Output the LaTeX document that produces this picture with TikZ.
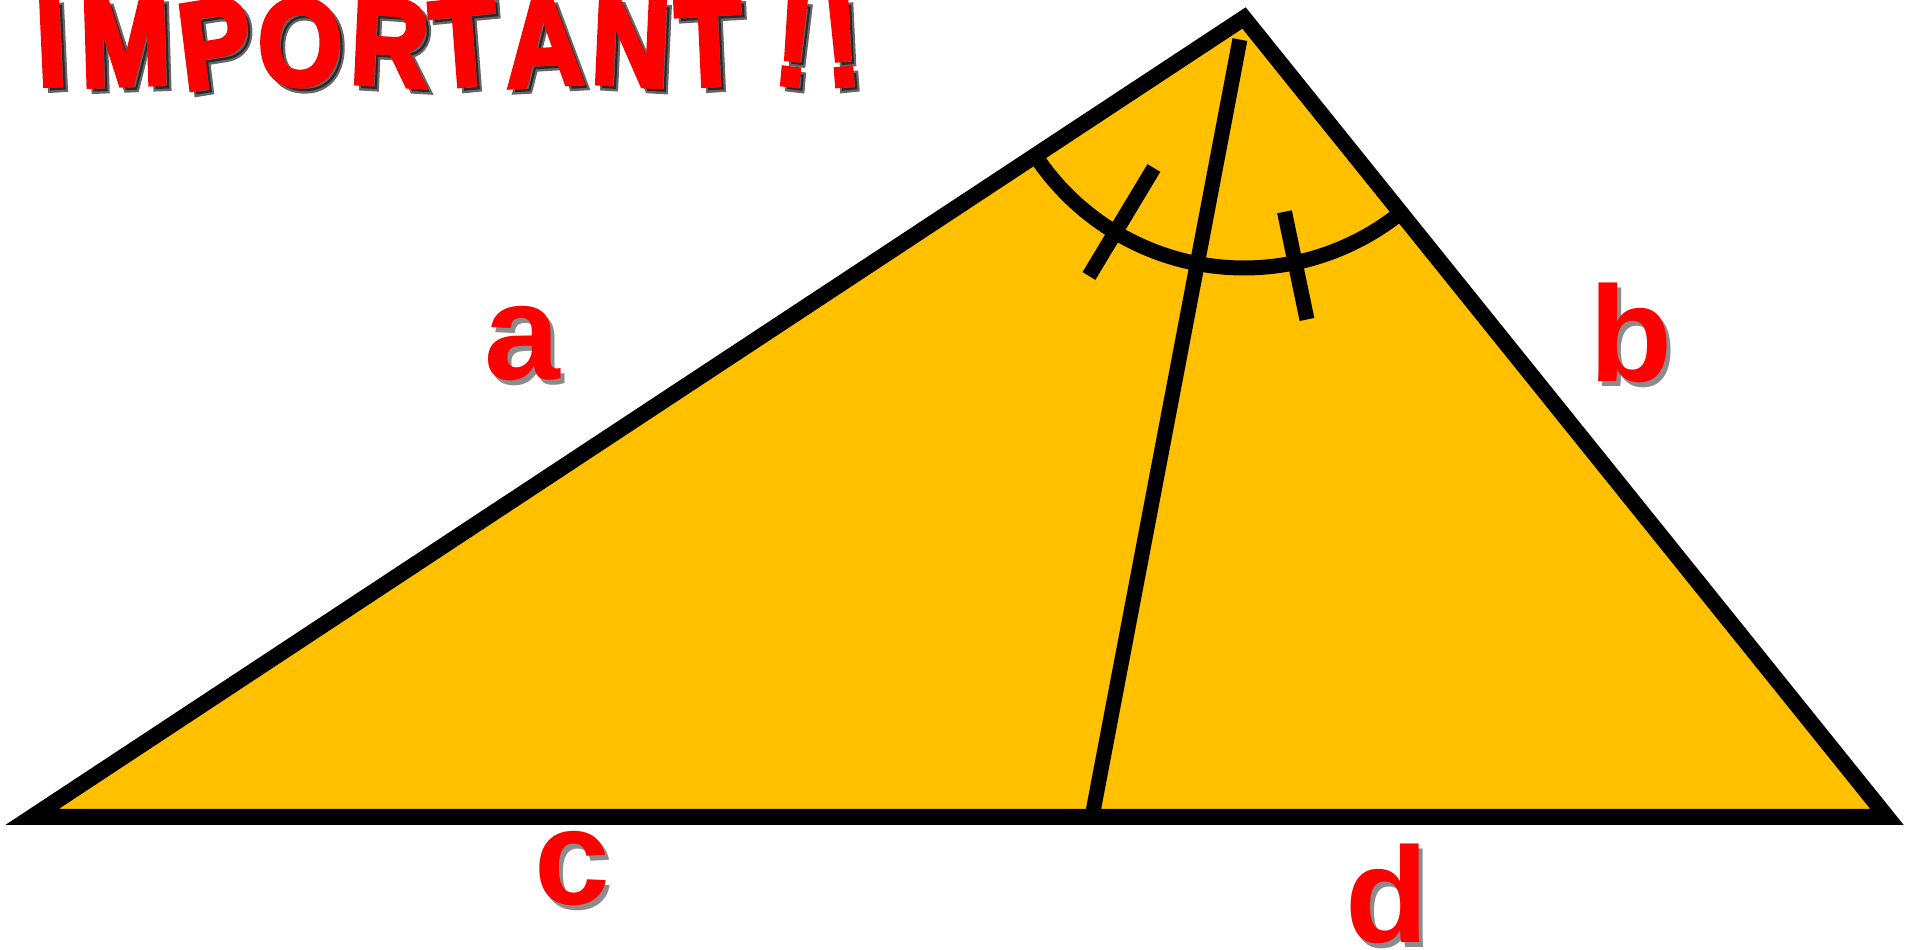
\documentclass[tikz,border=0pt]{standalone}
\usepackage{fontspec}
\usepackage{tikz}
\usetikzlibrary{calc}
\newfontfamily\lblfont{Liberation Sans}
\newfontfamily\impfont{Liberation Sans}[BoldFeatures={FakeBold=4}]
\definecolor{triyellow}{HTML}{FFC000}
\definecolor{lblred}{HTML}{FF0000}

\begin{document}
\begin{tikzpicture}[line width=0.15cm,
  lbl/.style={font=\lblfont\bfseries\fontsize{38.7}{40}\selectfont, text=lblred, inner sep=0pt, anchor=base},
  lblshadow/.style={lbl, text=black, opacity=0.45},
  imp/.style={font=\impfont\bfseries\fontsize{35}{36}\selectfont, text=lblred, inner sep=0pt, anchor=base, xscale=0.88},
  impshadow/.style={imp, text=black, opacity=0.6}]
  \useasboundingbox (0,0) rectangle (19.05,9.5);

  % triangle
  \coordinate (L) at (0.32,1.33);
  \coordinate (A) at (12.44,9.32);
  \coordinate (R) at (18.87,1.33);
  \draw[fill=triyellow, line join=miter, line width=0.16cm] (L) -- (A) -- (R) -- cycle;

  % bisector
  \coordinate (D) at (10.92,1.33);
  \coordinate (T) at ($(A)!0.22cm!(D)$);
  \draw (T) -- (D);

  % angle arc and ticks
  \draw (A) ++(213.4:2.5) arc[start angle=213.4, end angle=308.8, radius=2.5];
  \draw ($(A)+(239:1.75)$) -- ($(A)+(239:3.01)$);
  \draw ($(A)+(281.8:1.98)$) -- ($(A)+(281.8:3.08)$);

  % side labels
  \foreach \t/\x/\y in {a/5.22/5.70, b/16.31/5.68, c/5.72/0.45, d/13.87/0.07} {
    \node[lblshadow] at (\x+0.045,\y-0.045) {\t};
    \node[lbl] (lbl-\t) at (\x,\y) {\t};
  }

  % heading
  \foreach \ch/\x/\r [count=\i] in {I/0.53/3, M/1.265/2, P/2.20/8, O/3.00/0, R/3.88/-3,
      T/4.67/5, A/5.46/3, N/6.29/-3, T/7.11/3, !/7.90/-6, !/8.45/5} {
    \node[impshadow, rotate=\r] at (\x+0.05,8.65-0.05) {\ch};
    \node[imp, rotate=\r] (imp-\i) at (\x,8.65) {\ch};
  }
\end{tikzpicture}
\end{document}
